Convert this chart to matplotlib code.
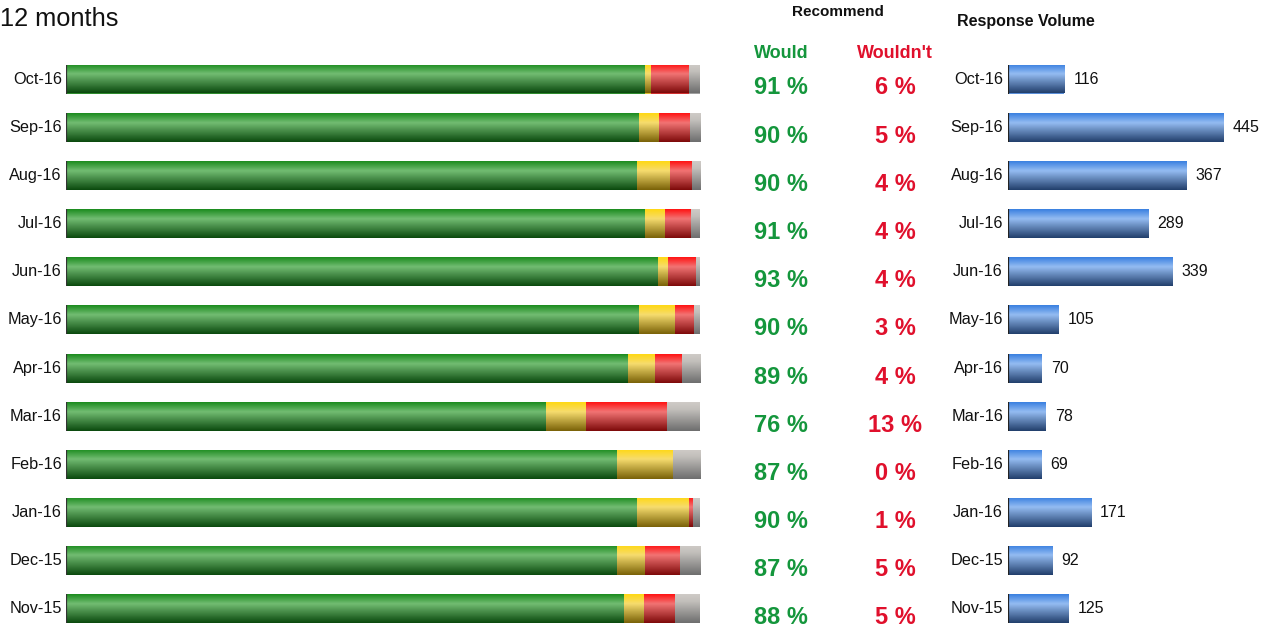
import numpy as np
import matplotlib
matplotlib.use("Agg")
import matplotlib.pyplot as plt
from matplotlib.colors import LinearSegmentedColormap

plt.rcParams['font.family'] = ['Liberation Sans', 'DejaVu Sans']

months = ["Oct-16", "Sep-16", "Aug-16", "Jul-16", "Jun-16", "May-16",
          "Apr-16", "Mar-16", "Feb-16", "Jan-16", "Dec-15", "Nov-15"]
green_pct = [91.3, 90.4, 90.0, 91.3, 93.3, 90.4, 88.6, 75.7, 86.9, 90.1, 86.9, 88.0]
yellow_pct = [0.9, 3.1, 5.2, 3.2, 1.7, 5.7, 4.3, 6.3, 8.8, 8.2, 4.4, 3.2]
red_pct = [6.1, 4.9, 3.6, 4.1, 4.4, 2.9, 4.3, 12.8, 0.0, 0.6, 5.5, 4.9]
gray_pct = [1.7, 1.6, 1.3, 1.4, 0.6, 0.9, 2.9, 5.2, 4.3, 1.1, 3.2, 3.9]
would = [91, 90, 90, 91, 93, 90, 89, 76, 87, 90, 87, 88]
wouldnt = [6, 5, 4, 4, 4, 3, 4, 13, 0, 1, 5, 5]
volume = [116, 445, 367, 289, 339, 105, 70, 78, 69, 171, 92, 125]

W, H = 1268, 627
fig = plt.figure(figsize=(W / 100, H / 100), dpi=100)

# vertical mapping shared by all panels: row i centre at pixel 79 + i*48.18
step = 48.18
y_top = (0 - 79) / step
y_bot = (H - 79) / step
bh = 29 / step
rows = np.arange(len(months))
zeros = np.zeros(len(months))


def grad_cmap(top, mid, bottom, midpos=0.33):
    return LinearSegmentedColormap.from_list("g", [(0, top), (midpos, mid), (1, bottom)])


cm_green = grad_cmap('#1c8c1f', '#72bc72', '#0b4a0e')
cm_yellow = grad_cmap('#ffd814', '#f6dc6e', '#7a6208')
cm_red = grad_cmap('#ff1414', '#f27474', '#7e0a0a')
cm_gray = grad_cmap('#cfcbc7', '#c2bfbb', '#6e6e6e', 0.25)
cm_blue = grad_cmap('#3a80e0', '#94bcf2', '#223f6c')
grad = np.linspace(0, 1, 64).reshape(-1, 1)


def shade(ax, bars, cmap):
    for b in bars:
        x0, y0 = b.get_x(), b.get_y()
        w, h = b.get_width(), b.get_height()
        if w <= 0:
            continue
        im = ax.imshow(grad, cmap=cmap, extent=(x0, x0 + w, y0 + h, y0),
                       origin='upper', aspect='auto', interpolation='bilinear', zorder=2)
        im.set_clip_path(b)


def axes_px(x0, x1):
    ax = fig.add_axes([x0 / W, 0, (x1 - x0) / W, 1])
    ax.set_axis_off()
    return ax


# ---------- left stacked bars ----------
axL = axes_px(66, 700)
left = np.zeros(len(months))
for vals, cmap, col in [(green_pct, cm_green, '#2e8b2e'), (yellow_pct, cm_yellow, '#e0c030'),
                        (red_pct, cm_red, '#d03030'), (gray_pct, cm_gray, '#a0a0a0')]:
    bars = axL.barh(rows, vals, left=left, height=bh, color=col, zorder=1)
    shade(axL, bars, cmap)
    left = left + np.array(vals)
axL.vlines(zeros, rows - bh / 2, rows + bh / 2, color='#333333', lw=1.6, zorder=3)
axL.set_xlim(0, 100)
axL.set_ylim(y_bot, y_top)
for i, m in enumerate(months):
    axL.text(-0.65, i, m, ha='right', va='center', fontsize=11.7, color='#111111')

# ---------- middle text ----------
axM = axes_px(710, 950)
axM.set_xlim(710, 950)
axM.set_ylim(y_bot, y_top)
green_txt = '#14963c'
red_txt = '#e0102c'
axM.text(838, (12 - 79) / step, "Recommend", ha='center', va='center',
         fontsize=11, fontweight='bold', color='#111111')
axM.text(781, (53.5 - 79) / step, "Would", ha='center', va='center',
         fontsize=13, fontweight='bold', color=green_txt)
axM.text(895, (53.5 - 79) / step, "Wouldn't", ha='center', va='center',
         fontsize=13, fontweight='bold', color=red_txt)
for i in rows:
    axM.text(781, i + 9 / step, f"{would[i]} %", ha='center', va='center',
             fontsize=17, fontweight='bold', color=green_txt)
    axM.text(895, i + 9 / step, f"{wouldnt[i]} %", ha='center', va='center',
             fontsize=17, fontweight='bold', color=red_txt)

# ---------- response volume ----------
px_per_unit = 216 / 445
axR = axes_px(1008, W)
barsR = axR.barh(rows, volume, height=bh, color='#5a8ed8', zorder=1)
shade(axR, barsR, cm_blue)
axR.vlines(zeros, rows - bh / 2, rows + bh / 2, color='#222222', lw=1.6, zorder=3)
axR.set_xlim(0, (W - 1008) / px_per_unit)
axR.set_ylim(y_bot, y_top)
for i in rows:
    axR.text(volume[i] + 9 / px_per_unit, i, str(volume[i]), ha='left', va='center',
             fontsize=11.5, color='#111111')
    axR.text(-5 / px_per_unit, i, months[i], ha='right', va='center',
             fontsize=11.7, color='#111111')
axR.text(-51 / px_per_unit, (21.5 - 79) / step, "Response Volume", ha='left', va='center',
         fontsize=11.5, fontweight='bold', color='#111111')

fig.text(0 / W, 1 - 19 / H, "12 months", ha='left', va='center', fontsize=18.3, color='#111111')

fig.savefig("out.png", dpi=100)
